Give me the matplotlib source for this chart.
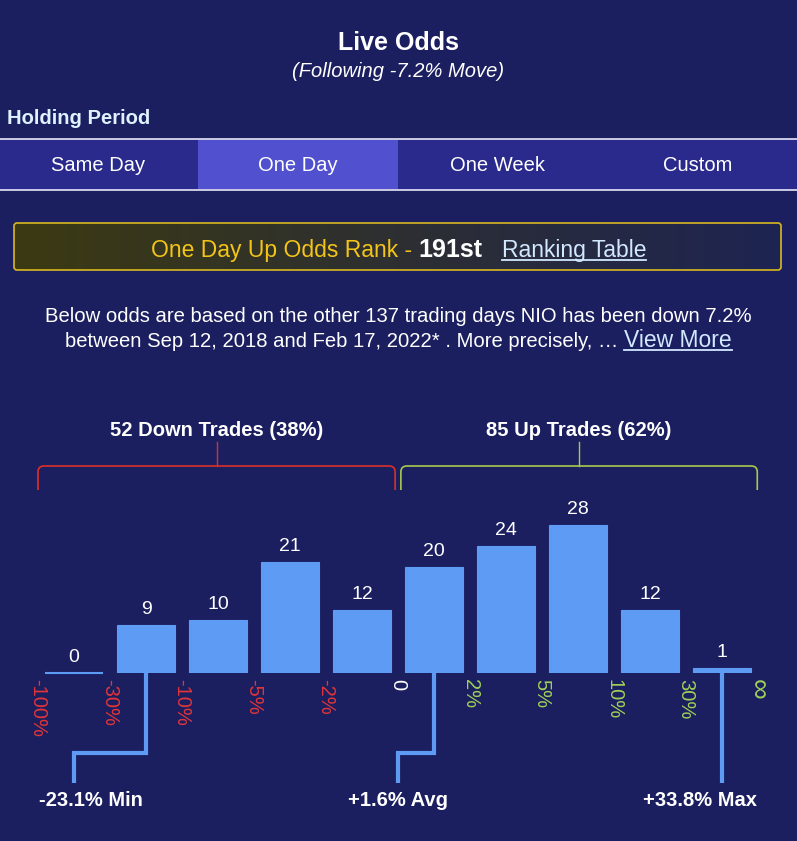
import numpy as np
import matplotlib.pyplot as plt
from matplotlib.patches import Rectangle, FancyBboxPatch, PathPatch
from matplotlib.path import Path
from matplotlib.transforms import blended_transform_factory

plt.rcParams['font.family'] = ['Liberation Sans', 'DejaVu Sans']

# ---- data ----
bin_edges = [-100, -30, -10, -5, -2, 0, 2, 5, 10, 30, np.inf]
edge_labels = ['-100%', '-30%', '-10%', '-5%', '-2%', '0', '2%', '5%', '10%', '30%', '\u221e']
trade_counts = [0, 9, 10, 21, 12, 20, 24, 28, 12, 1]
stat_names = ['Min', 'Avg', 'Max']
stat_values = [-23.1, 1.6, 33.8]
tabs = ['Same Day', 'One Day', 'One Week', 'Custom']
selected_tab = 1
move_pct = -7.2
rank_text = '191st'
n_days = 137
ticker = 'NIO'
start_date = 'Sep 12, 2018'
end_date = 'Feb 17, 2022'

# layout (in pixels / bin units)
stat_elbow_x = [0.0, 4.5, None]
stat_label_x = [0.24, 4.5, 8.69]

BG = '#1b1f5f'
TAB_BG = '#2a2a8d'
TAB_SEL = '#5151cf'
BAR = '#5e9bf5'
RED = '#e0353a'
GREEN = '#9fcf58'
LINK = '#d2e8ff'
GOLD = '#f3c419'

W, H = 797, 841
BASE_Y = 673
PX_PER_TRADE = 5.29

fig = plt.figure(figsize=(W / 100, H / 100), dpi=100, facecolor=BG)
axp = fig.add_axes([0, 0, 1, 1])
axp.set_xlim(0, W)
axp.set_ylim(H, 0)
axp.axis('off')

# header
axp.text(W / 2, 43, 'Live Odds', color='white', fontsize=18, fontweight='bold', ha='center', va='center')
axp.text(W / 2, 71, f'(Following {move_pct}% Move)', color='white', fontsize=14.5, style='italic',
         ha='center', va='center')
axp.text(7, 118, 'Holding Period', color='#dff2ff', fontsize=14.5, fontweight='bold', ha='left', va='center')

# tab bar
axp.add_patch(Rectangle((0, 139), W, 51, color=TAB_BG, lw=0))
tab_w = 200
for i, t in enumerate(tabs):
    if i == selected_tab:
        axp.add_patch(Rectangle((i * tab_w - 2, 140), tab_w, 49, color=TAB_SEL, lw=0))
    axp.text(i * tab_w + 98, 165, t, color='white', fontsize=14.5, ha='center', va='center')
axp.plot([0, W], [138.5, 138.5], color='#e8e8f8', lw=1.2)
axp.plot([0, W], [190, 190], color='#e8e8f8', lw=1.2)

# rank box with gradient
box = FancyBboxPatch((14, 223), 767, 47, boxstyle='round,pad=0,rounding_size=3',
                     facecolor='none', edgecolor='#d8b820', lw=1.2, zorder=3)
axp.add_patch(box)
c0 = np.array([60, 58, 18]) / 255
c1 = np.array([30, 36, 82]) / 255
t = np.linspace(0, 1, 256)[None, :, None]
grad = c0 + (c1 - c0) * t
im = axp.imshow(grad, extent=(14, 781, 270, 223), aspect='auto', zorder=2)
im.set_clip_path(box)
axp.set_xlim(0, W)
axp.set_ylim(H, 0)

renderer = fig.canvas.get_renderer()


def draw_runs(y, runs, cx=W / 2):
    # runs: list of (text, kwargs, underline)
    items = []
    total = 0
    for s, kw, ul in runs:
        tx = axp.text(0, y, s, va='baseline', ha='left', **kw)
        w = tx.get_window_extent(renderer).width
        items.append((tx, w, ul, kw.get('color', 'white')))
        total += w
    x = cx - total / 2
    for tx, w, ul, col in items:
        tx.set_x(x)
        if ul:
            axp.plot([x, x + w], [y + 2.5, y + 2.5], color=col, lw=1.3)
        x += w


draw_runs(257, [
    ('One Day Up Odds Rank - ', dict(color=GOLD, fontsize=16.5), False),
    (rank_text, dict(color='white', fontsize=18, fontweight='bold'), False),
    ('   ', dict(color='white', fontsize=16.5), False),
    ('Ranking Table', dict(color=LINK, fontsize=16.5), True),
])

draw_runs(322, [
    (f'Below odds are based on the other {n_days} trading days {ticker} has been down {abs(move_pct)}%',
     dict(color='white', fontsize=14.6), False),
])
draw_runs(347, [
    (f'between {start_date} and {end_date}* . More precisely, \u2026 ', dict(color='white', fontsize=14.6), False),
    ('View More', dict(color=LINK, fontsize=16.5), True),
])

# ---- bar chart ----
n_bins = len(trade_counts)
top_px = 480
axb = fig.add_axes([38 / W, (H - BASE_Y) / H, 720 / W, (BASE_Y - top_px) / H])
axb.set_facecolor('none')
axb.set_xlim(-0.5, n_bins - 0.5)
axb.set_ylim(0, (BASE_Y - top_px) / PX_PER_TRADE)
x = np.arange(n_bins)
bar_w = 58 / 72
axb.bar(x, trade_counts, width=bar_w, color=BAR, edgecolor=BAR, lw=0.8)
for xi, v in zip(x, trade_counts):
    if v == 0:
        axb.hlines(0, xi - bar_w / 2, xi + bar_w / 2, color=BAR, lw=1.5, clip_on=False)
    axb.annotate(str(v), (xi, v), xytext=(0, 5), textcoords='offset points',
                 ha='center', va='bottom', color='white', fontsize=14)
for s in axb.spines.values():
    s.set_visible(False)
axb.set_yticks([])
axb.set_xticks(np.arange(len(bin_edges)) - 0.5)
axb.set_xticklabels(edge_labels, rotation=-90, fontsize=14.5)
axb.tick_params(axis='x', length=0, pad=4)
for lbl, e in zip(axb.get_xticklabels(), bin_edges):
    lbl.set_color(RED if e < 0 else ('white' if e == 0 else GREEN))
    if np.isinf(e):
        lbl.set_fontsize(21)

trans = blended_transform_factory(axb.transData, axp.transData)

# down / up brackets
n_down = sum(trade_counts[:5])
n_up = sum(trade_counts[5:])
total = n_down + n_up
groups = [(-0.5, 4.46, '#da3029', f'{n_down} Down Trades ({round(100 * n_down / total)}%)'),
          (4.54, 9.49, '#a6cb4c', f'{n_up} Up Trades ({round(100 * n_up / total)}%)')]
r_x, r_y = 6 / 72, 6
for x0, x1, col, label in groups:
    verts = [(x0, 490), (x0, 466 + r_y), (x0, 466), (x0 + r_x, 466), (x1 - r_x, 466),
             (x1, 466), (x1, 466 + r_y), (x1, 490)]
    codes = [Path.MOVETO, Path.LINETO, Path.CURVE3, Path.CURVE3, Path.LINETO,
             Path.CURVE3, Path.CURVE3, Path.LINETO]
    axp.add_patch(PathPatch(Path(verts, codes), facecolor='none', edgecolor=col, lw=1.2,
                            transform=trans))
    cx = (x0 + x1) / 2
    axp.plot([cx, cx], [442, 466], color=col, lw=1.0, transform=trans)
    axp.text(cx, 430, label, transform=trans, color='white', fontsize=14.5, fontweight='bold',
             ha='center', va='center')

# min / avg / max markers
for name, val, ex, lx in zip(stat_names, stat_values, stat_elbow_x, stat_label_x):
    b = int(np.searchsorted(bin_edges, val)) - 1
    if ex is None:
        xs, ys = [b, b], [BASE_Y, 783]
    else:
        xs, ys = [b, b, ex, ex], [BASE_Y, 753, 753, 783]
    axp.plot(xs, ys, color=BAR, lw=3, transform=trans, solid_joinstyle='miter', solid_capstyle='butt')
    axp.text(lx, 800, f'{val:+.1f}% {name}', transform=trans, color='white', fontsize=14.5,
             fontweight='bold', ha='center', va='center')

fig.savefig('out.png', dpi=100, facecolor=BG)
